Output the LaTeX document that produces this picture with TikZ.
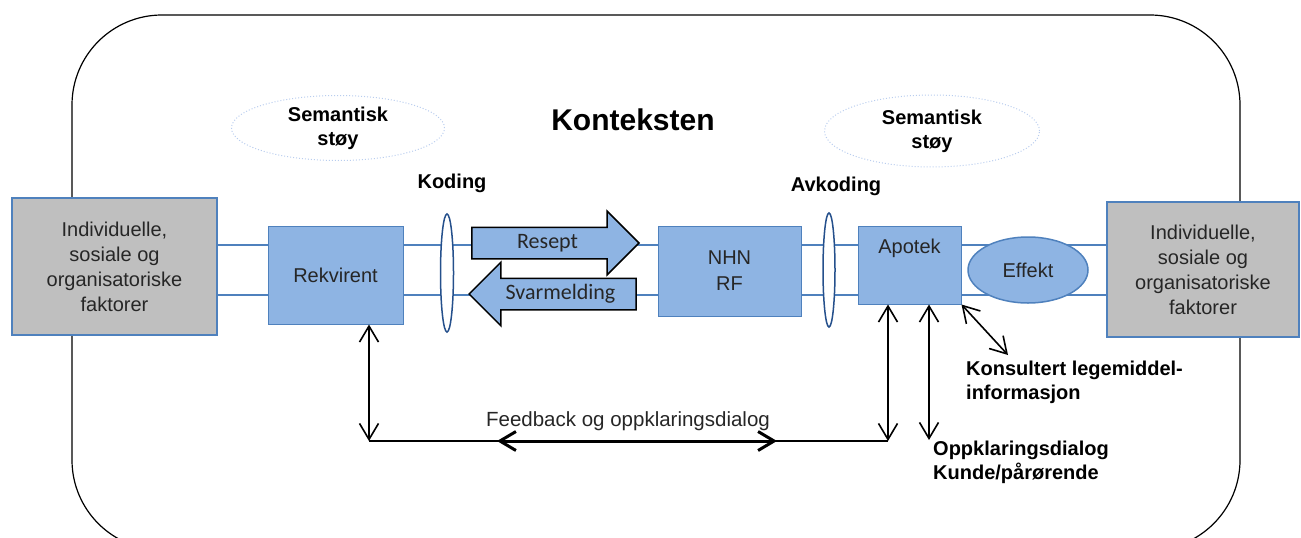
\documentclass[tikz,border=0pt]{standalone}
\usepackage{fontspec}
\setmainfont{Liberation Sans}
\newfontfamily\calfont{Carlito}
\usepackage{xcolor}
\definecolor{kfill}{RGB}{142,180,227}
\definecolor{kline}{RGB}{79,129,189}
\definecolor{klens}{RGB}{37,80,140}
\definecolor{kgray}{RGB}{191,191,191}
\definecolor{knoise}{RGB}{185,205,238}
\definecolor{ktext}{RGB}{38,38,38}
\usetikzlibrary{arrows.meta, positioning, shapes.geometric, shapes.arrows, calc, backgrounds}

\begin{document}
\begin{tikzpicture}[x=1pt, y=-1pt,
  faktor/.style={draw=kline, line width=1.2pt, fill=kgray, text=ktext, align=center,
      font=\fontsize{20}{25}\selectfont, inner sep=0pt},
  aktor/.style={draw=kline, line width=1pt, fill=kfill, text=ktext, align=center,
      font=\fontsize{20}{26}\selectfont, inner sep=0pt},
  lens/.style={ellipse, draw=klens, line width=1.5pt, fill=white, inner sep=0pt},
  noise/.style={ellipse, draw=knoise, dotted, line width=1pt, align=center,
      font=\fontsize{20}{24}\selectfont\bfseries, inner sep=0pt},
  lbl/.style={font=\fontsize{20}{24}\selectfont\bfseries, inner sep=0pt},
  msg/.style={single arrow, draw=black, line width=1.5pt, fill=kfill, text=ktext,
      font=\calfont\fontsize{22}{24}\selectfont, single arrow head extend=16pt,
      text height=15pt, text depth=5pt, inner ysep=5pt, minimum height=167pt},
  chan/.style={draw=kline, line width=2.2pt},
  dbl/.style={{Straight Barb[length=16pt,width=19pt]}-{Straight Barb[length=16pt,width=19pt]},
      line width=1.6pt},
]
\useasboundingbox (0,0) rectangle (1301,538);

% Context frame
\begin{scope}
  \clip (0,0) rectangle (1301,538);
  \draw[line width=1.2pt, rounded corners=90pt] (72,15) rectangle (1240,550);
\end{scope}
\node[font=\fontsize{30}{34}\selectfont\bfseries] (kontekst) at (633,120) {Konteksten};

% === Semantic noise ===
\node[noise, minimum width=213pt, minimum height=65pt] (stoyL) at (338,128) {Semantisk\\støy};
\node[noise, minimum width=215pt, minimum height=72pt] (stoyR) at (932,131) {Semantisk\\støy};

% === Factors ===
\node[faktor, minimum width=205pt, minimum height=137pt] (fakL) at (114.5,266.5)
     {Individuelle,\\sosiale og\\organisatoriske\\faktorer};
\node[faktor, minimum width=192pt, minimum height=135pt] (fakR) at (1203,269.5)
     {Individuelle,\\sosiale og\\organisatoriske\\faktorer};

% === Actors ===
\node[aktor, minimum width=135pt, minimum height=98pt] (rekv) at (335.5,275) {Rekvirent};
\node[aktor, minimum width=143pt, minimum height=90pt] (nhn) at (729.5,271) {NHN\\RF};
\node[aktor, minimum width=103pt, minimum height=78pt] (apotek) at (909.5,265) {};
\node[aktor, draw=none, fill=none] at (909.5,248) {Apotek};
\node[aktor, ellipse, line width=1.5pt, minimum width=120pt, minimum height=66pt] (effekt)
     at (1028,270) {Effekt};

% === Coding lenses ===
\node[lens, minimum width=13pt, minimum height=118pt] (koding) at (447,273) {};
\node[lbl] at (452,183) {Koding};
\node[lens, minimum width=12pt, minimum height=114pt] (avkoding) at (829,270) {};
\node[lbl] at (836,186) {Avkoding};

% === Channel lines ===
\begin{scope}[on background layer]
  \draw[chan] (fakL.east |- 0,245) -- (fakR.west |- 0,245);
  \draw[chan] (fakL.east |- 0,295) -- (fakR.west |- 0,295);
\end{scope}

% === Messages ===
\node[msg, anchor=tip] (resept) at (640,243) {Resept};
\node[msg, shape border rotate=180, anchor=tip] (svar) at (468,294) {Svarmelding};

% === Feedback ===
\coordinate (fbL) at (369,441);
\coordinate (fbR) at (888,441);
\coordinate (fbA) at (497,441);
\coordinate (fbB) at (777,441);
\draw[dbl] (rekv.south -| fbL) -- (fbL);
\draw[dbl] (apotek.south -| fbR) -- (fbR);
\draw[line width=1.5pt] (fbL) -- (fbR);
\draw[dbl, line width=3pt] (fbA) -- (fbB);
\node[font=\fontsize{20.5}{24}\selectfont, text=ktext] (fbtxt) at (628,421) {Feedback og oppklaringsdialog};

% Customer dialogue
\coordinate (kunde) at (929,440);
\draw[dbl] (apotek.south -| kunde) -- (kunde);
\node[lbl, anchor=north west, align=left] (kundetxt) at (933,441)
     {Oppklaringsdialog\\Kunde/pårørende};

% Drug information
\coordinate (info) at (1008,355);
\draw[dbl] (apotek.south east) -- (info);
\node[lbl, anchor=north west, align=left] (infotxt) at (966,361)
     {Konsultert legemiddel-\\informasjon};

\end{tikzpicture}
\end{document}
